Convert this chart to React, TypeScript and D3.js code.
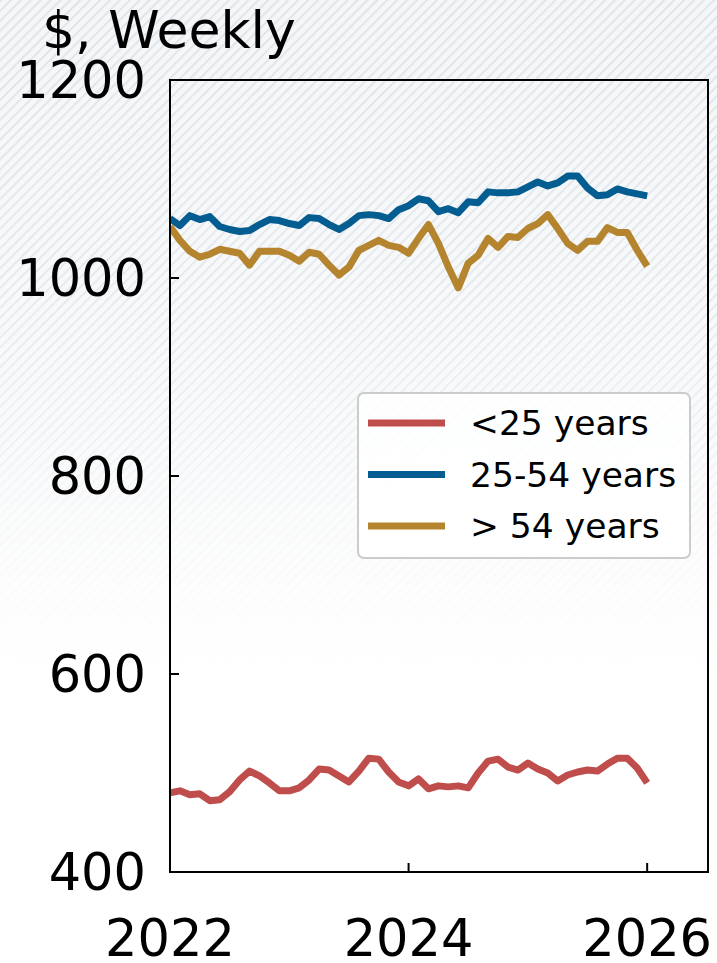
import React from "react";
import * as d3 from "d3";

const START_YEAR = 2022;
const under25 = [480,482,478,479,472,473,481,493,502,497,490,482,482,485,493,504,503,497,491,502,515,514,501,491,487,494,484,487,486,487,485,500,512,514,506,503,510,504,500,492,498,501,503,502,509,515,515,505,490];
const age25to54 = [1060,1053,1063,1059,1062,1052,1049,1047,1048,1054,1059,1058,1055,1053,1061,1060,1054,1049,1055,1063,1064,1063,1060,1069,1073,1080,1078,1067,1070,1066,1077,1076,1087,1086,1086,1087,1092,1097,1093,1096,1103,1103,1091,1083,1084,1090,1087,1085,1083];
const over54 = [1052,1038,1027,1021,1024,1029,1027,1025,1013,1027,1027,1027,1023,1017,1026,1024,1013,1003,1011,1028,1033,1038,1033,1031,1025,1040,1054,1035,1011,990,1015,1023,1040,1031,1042,1041,1050,1055,1064,1050,1035,1028,1037,1037,1051,1046,1046,1028,1012];
const seriesNames = ["<25 years", "25-54 years", "> 54 years"];
const seriesColors = ["#bf4d4b", "#045d91", "#b5842f"];
const yTicks = [400, 600, 800, 1000, 1200];
const xTicks = [2022, 2024, 2026];
const title = "$, Weekly";

export default function App() {
  const W = 717, H = 963;
  const L = 170, R = 708, T = 80, B = 872;
  const x = d3.scaleLinear().domain([2022, 2026.51]).range([L, R]);
  const y = d3.scaleLinear().domain([400, 1200]).range([B, T]);
  const all = [under25, age25to54, over54];
  const line = d3
    .line<number>()
    .x((_, i) => x(START_YEAR + i / 12))
    .y((d) => y(d));
  const font = "DejaVu Sans, sans-serif";
  const legendX = 358, legendY = 393, legendW = 332, legendH = 165;
  return (
    <svg width={W} height={H} style={{ position: "absolute", left: 0, top: 0 }} fontFamily={font}>
      <defs>
        <pattern id="hatch" width={7} height={7} patternUnits="userSpaceOnUse" patternTransform="rotate(45)">
          <rect x={0} y={0} width={1.6} height={7} fill="#dbe1e6" />
        </pattern>
        <linearGradient id="bgfade" x1="0" y1="0" x2="0" y2="1">
          <stop offset="0" stopColor="#f4f6f8" />
          <stop offset="0.45" stopColor="#f9fafb" />
          <stop offset="0.7" stopColor="#ffffff" />
        </linearGradient>
        <linearGradient id="maskgrad" x1="0" y1="0" x2="0" y2="1">
          <stop offset="0" stopColor="#fff" stopOpacity={1} />
          <stop offset="0.3" stopColor="#fff" stopOpacity={0.75} />
          <stop offset="0.55" stopColor="#fff" stopOpacity={0.15} />
          <stop offset="0.7" stopColor="#fff" stopOpacity={0} />
        </linearGradient>
        <mask id="fademask" maskUnits="userSpaceOnUse" x={0} y={0} width={W} height={H}>
          <rect x={0} y={0} width={W} height={H} fill="url(#maskgrad)" />
        </mask>
        <clipPath id="plotclip">
          <rect x={L} y={T} width={R - L} height={B - T} />
        </clipPath>
      </defs>
      <rect x={0} y={0} width={W} height={H} fill="url(#bgfade)" />
      <rect x={0} y={0} width={W} height={H} fill="url(#hatch)" mask="url(#fademask)" />

      <text x={42} y={48} fontSize={52} fill="#000">{title}</text>

      <g clipPath="url(#plotclip)">
        {all.map((s, k) => (
          <path key={k} d={line(s) || ""} fill="none" stroke={seriesColors[k]} strokeWidth={7} strokeLinejoin="round" />
        ))}
      </g>

      <rect x={L} y={T} width={R - L} height={B - T} fill="none" stroke="#000" strokeWidth={2} />

      {yTicks.map((t) => (
        <g key={t}>
          <line x1={L} x2={L + 9} y1={y(t)} y2={y(t)} stroke="#000" strokeWidth={2} />
          <text x={146} y={y(t) + 18} fontSize={51} textAnchor="end" fill="#000">{t}</text>
        </g>
      ))}
      {xTicks.map((t) => (
        <g key={t}>
          <line x1={x(t)} x2={x(t)} y1={B} y2={B - 9} stroke="#000" strokeWidth={2} />
          <text x={x(t)} y={956} fontSize={51} textAnchor="middle" fill="#000">{t}</text>
        </g>
      ))}

      <rect x={legendX} y={legendY} width={legendW} height={legendH} rx={6} ry={6} fill="#ffffff" fillOpacity={0.85} stroke="#cccccc" strokeWidth={2} />
      {seriesNames.map((n, k) => {
        const ly = 423 + k * 51.5;
        return (
          <g key={n}>
            <line x1={368} x2={445} y1={ly} y2={ly} stroke={seriesColors[k]} strokeWidth={7} />
            <text x={470} y={ly + 12} fontSize={34.5} fill="#000">{n}</text>
          </g>
        );
      })}
    </svg>
  );
}
